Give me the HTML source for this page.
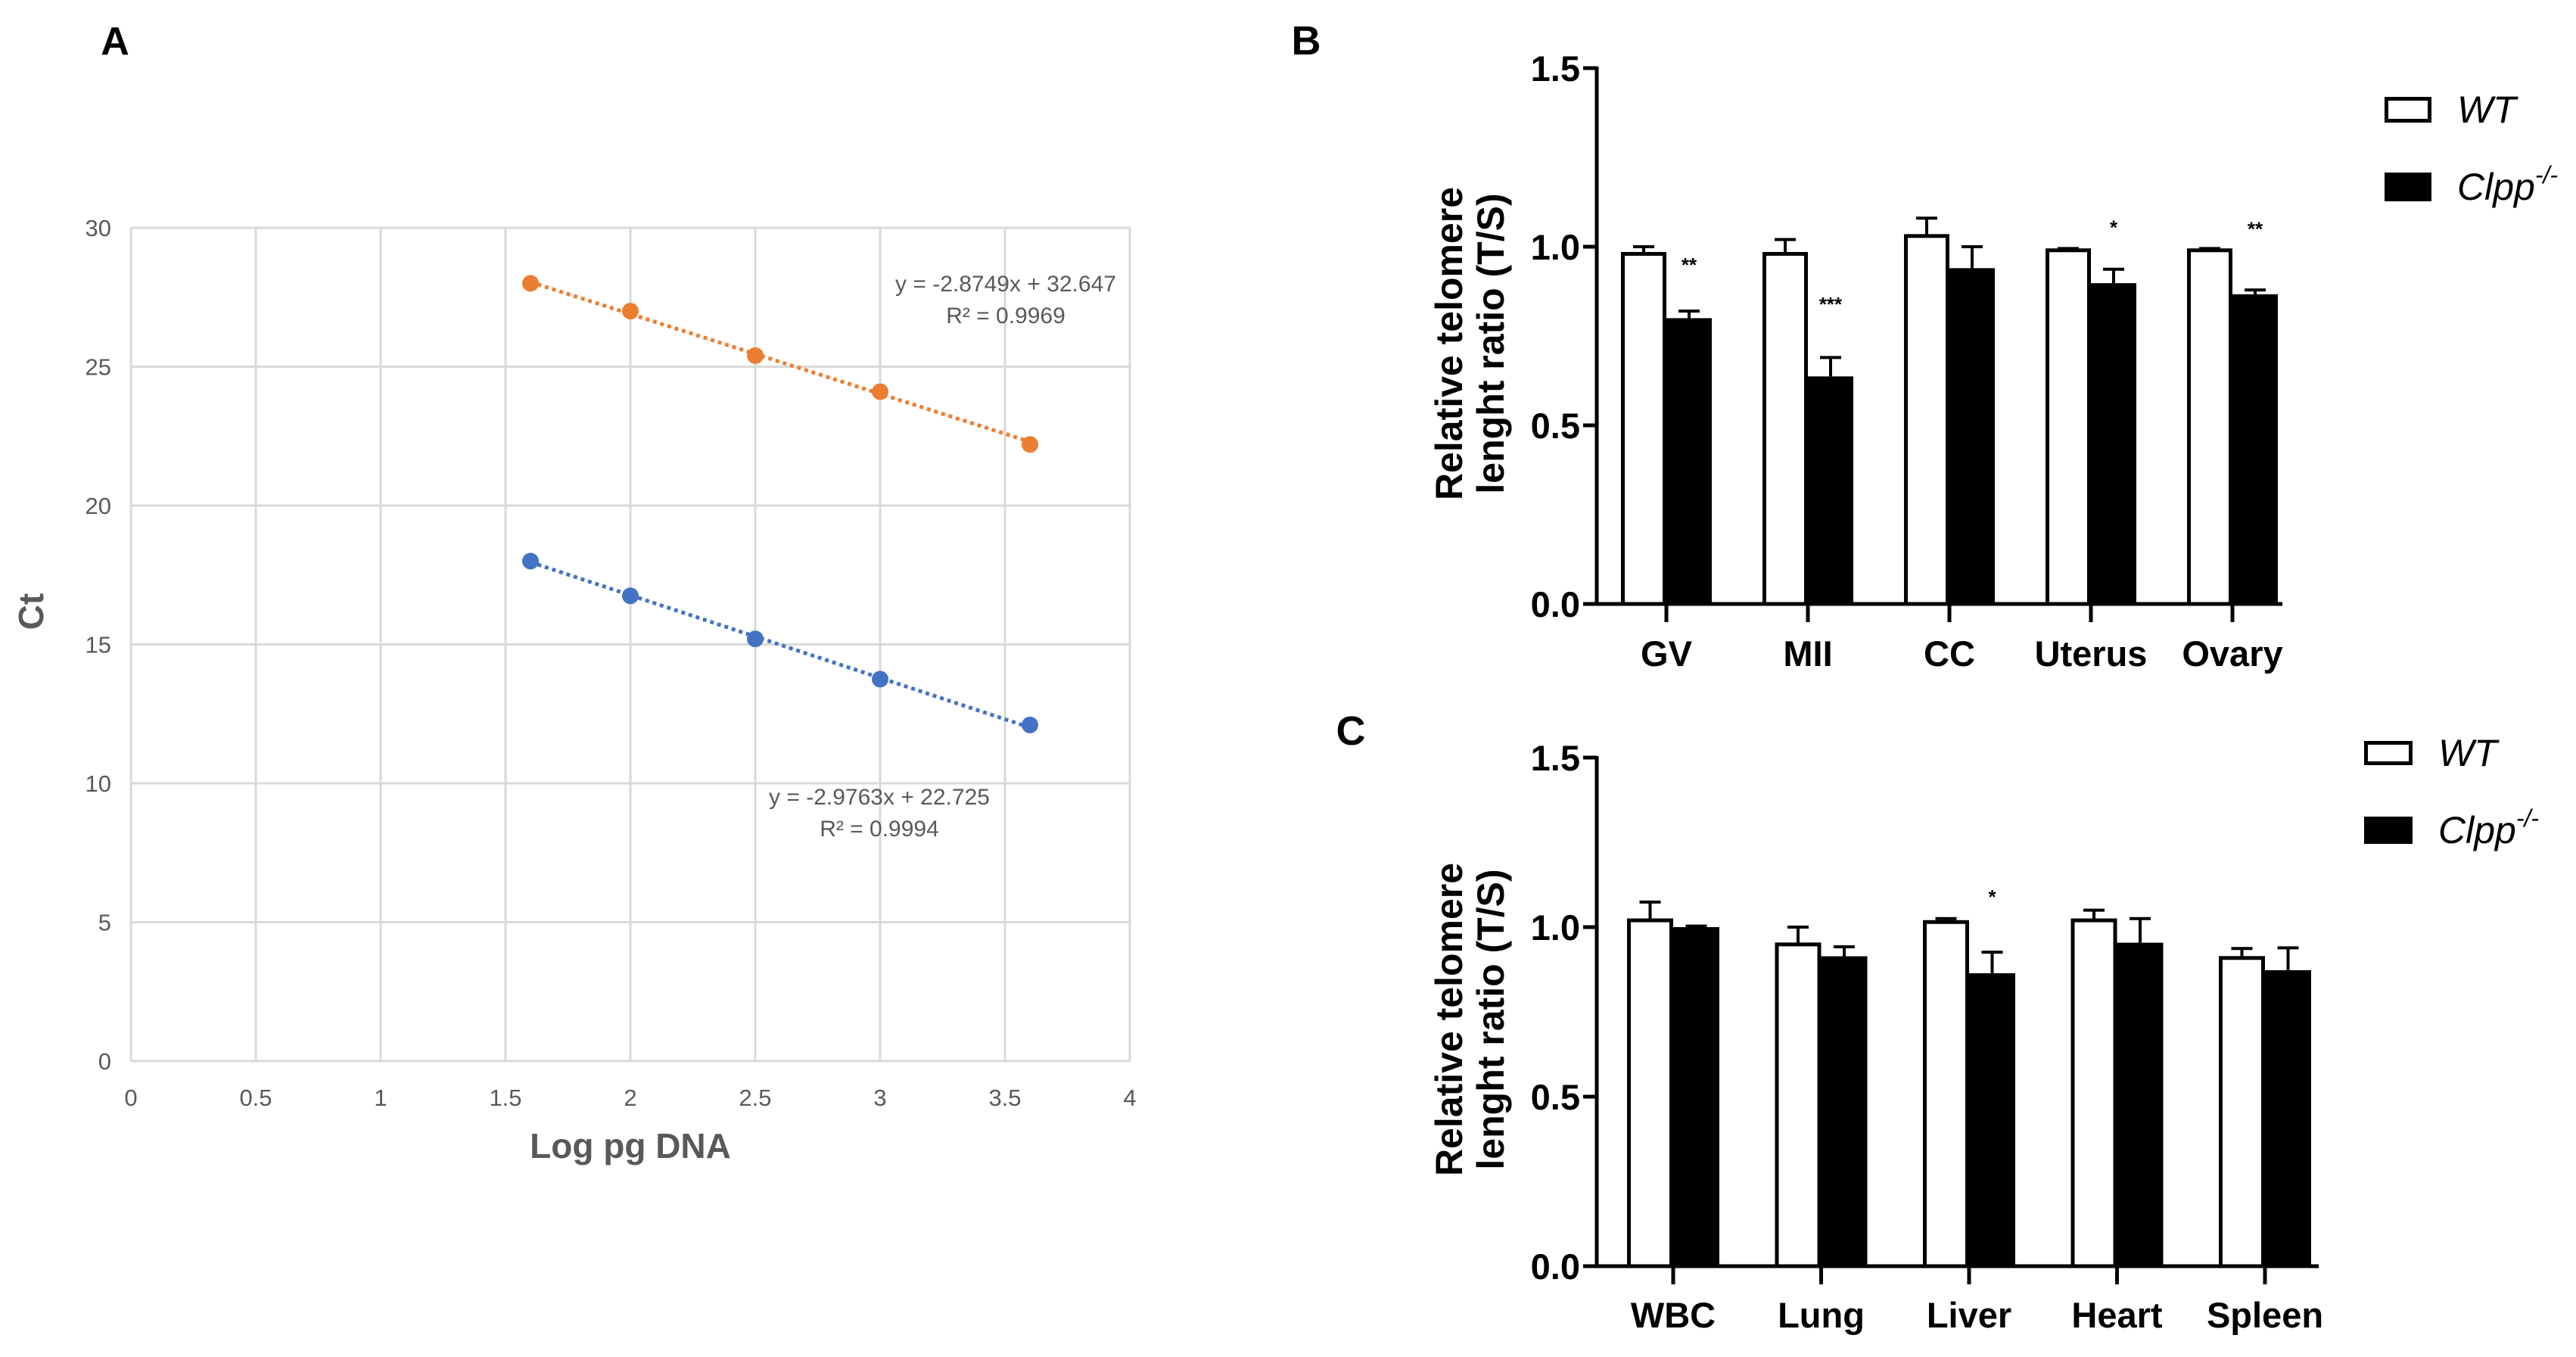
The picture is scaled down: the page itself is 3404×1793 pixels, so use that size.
<!DOCTYPE html>
<html><head><meta charset="utf-8"><style>
html,body{margin:0;padding:0;background:#fff;}
svg{display:block;}
.ga{font-family:"Liberation Sans",sans-serif;fill:#595959;font-size:31px;}
.gb{font-family:"Liberation Sans",sans-serif;font-weight:bold;fill:#000;}
</style></head><body>
<svg id="fig" width="3404" height="1793" viewBox="0 0 3404 1793" xmlns="http://www.w3.org/2000/svg">
<g id="pa"></g>
<g id="pb"></g>
<g id="pc"></g>
</svg>
<script>
// Panel A data
const aXTicks = [0,0.5,1,1.5,2,2.5,3,3.5,4];
const aYTicks = [0,5,10,15,20,25,30];
const aX = [1.6,2,2.5,3,3.6];
const aOrange = [28,27,25.4,24.1,22.2];
const aBlue = [18,16.75,15.2,13.75,12.1];
const aOrangeFit = [-2.8749,32.647];
const aBlueFit = [-2.9763,22.725];
// Panel B data
const bCats = ["GV","MII","CC","Uterus","Ovary"];
const bWT = [0.98,0.98,1.03,0.99,0.99];
const bWTErr = [0.02,0.04,0.05,0.005,0.005];
const bKO = [0.80,0.637,0.94,0.898,0.867];
const bKOErr = [0.02,0.053,0.06,0.039,0.012];
const bStars = ["**","***","","*","**"];
const bStarY = [0.96,0.85,0,1.065,1.06];
// Panel C data
const cCats = ["WBC","Lung","Liver","Heart","Spleen"];
const cWT = [1.02,0.949,1.015,1.02,0.909];
const cWTErr = [0.054,0.051,0.01,0.03,0.028];
const cKO = [1.0,0.914,0.864,0.954,0.873];
const cKOErr = [0.003,0.028,0.062,0.071,0.066];
const cStars = ["","","*","",""];
const cStarY = [0,0,1.10,0,0];
const barTicks = [0,0.5,1.0,1.5];

const NS="http://www.w3.org/2000/svg";
function mk(p,tag,at,txt){const e=document.createElementNS(NS,tag);for(const k in at)e.setAttribute(k,at[k]);if(txt!==undefined)e.textContent=txt;p.appendChild(e);return e;}

// ---- Panel A
const pa=document.getElementById('pa');
const ax=v=>173+(v/4)*(1493-173);
const ay=v=>1402-(v/30)*(1402-301);
let t=mk(pa,'text',{x:152,y:72,'font-size':52,class:'gb','text-anchor':'middle'},'A');


aXTicks.forEach(v=>{
  let l=mk(pa,'line',{x1:ax(v),x2:ax(v),y1:ay(0),y2:ay(30),stroke:'#d9d9d9','stroke-width':3});
  
  
  let tx=mk(pa,'text',{x:ax(v),y:1461,class:'ga','text-anchor':'middle'},String(v));
  
  
});
aYTicks.forEach(v=>{
  let l=mk(pa,'line',{x1:ax(0),x2:ax(4),y1:ay(v),y2:ay(v),stroke:'#d9d9d9','stroke-width':3});
  
  
  let tx=mk(pa,'text',{x:147,y:ay(v)+11,class:'ga','text-anchor':'end'},String(v));
  
  
});
t=mk(pa,'text',{x:833,y:1530,style:'font-size:46px',class:'ga','font-weight':'bold','text-anchor':'middle'},'Log pg DNA');


t=mk(pa,'text',{x:0,y:0,style:'font-size:46px',class:'ga','font-weight':'bold','text-anchor':'middle',transform:'translate(57,808) rotate(-90)'},'Ct');


function series(vals,fit,col,name){
  const x1=aX[0],x2=aX[aX.length-1];
  let l=mk(pa,'line',{x1:ax(x1),y1:ay(fit[0]*x1+fit[1]),x2:ax(x2),y2:ay(fit[0]*x2+fit[1]),stroke:col,'stroke-width':5,'stroke-dasharray':'5 5'});
  
  
  vals.forEach((v,i)=>{
    let c=mk(pa,'circle',{cx:ax(aX[i]),cy:ay(v),r:11,fill:col});
    
    
  });
}
series(aOrange,aOrangeFit,'#ed7d31','orange-series');
series(aBlue,aBlueFit,'#4472c4','blue-series');
function eq(x,y,fit,r2,name){
  let a=mk(pa,'text',{x:x,y:y,class:'ga',style:'font-size:30px','text-anchor':'middle'},'y = '+fit[0]+'x + '+fit[1]);
  
  
  let b=mk(pa,'text',{x:x,y:y+42,class:'ga',style:'font-size:30px','text-anchor':'middle'},'R² = '+r2);
  
  
}
eq(1329,385,aOrangeFit,'0.9969','orange-series');
eq(1162,1063,aBlueFit,'0.9994','blue-series');

// ---- Bar panels
function barPanel(g,o){
  const by=v=>o.y0-(v/1.5)*(o.y0-o.y15);
  let t=mk(g,'text',{x:o.lx,y:o.ly,'font-size':54,class:'gb','text-anchor':'middle'},o.label);
  
  
  let ya=mk(g,'line',{x1:o.ax,x2:o.ax,y1:o.y15-2,y2:o.y0,stroke:'#000','stroke-width':5});
  
  
  barTicks.forEach(v=>{
    let l=mk(g,'line',{x1:o.ax-18,x2:o.ax,y1:by(v),y2:by(v),stroke:'#000','stroke-width':5});
    
    
    let tx=mk(g,'text',{x:o.ax-22,y:by(v)+17,'font-size':47,class:'gb','text-anchor':'end'},v.toFixed(1));
    
    
  });
  o.cats.forEach((c,i)=>{
    const cx=o.c0+i*o.step, w=o.bw;
    let tk=mk(g,'line',{x1:cx,x2:cx,y1:o.y0,y2:o.y0+24,stroke:'#000','stroke-width':5});
    
    
    let lb=mk(g,'text',{x:cx,y:o.xly,'font-size':47,class:'gb','text-anchor':'middle'},c);
    
    
    let ew=mk(g,'line',{x1:cx-w/2,x2:cx-w/2,y1:by(o.wt[i]+o.wte[i]),y2:by(o.wt[i]),stroke:'#000','stroke-width':4});
    
    
    let ewc=mk(g,'line',{x1:cx-w/2-14,x2:cx-w/2+14,y1:by(o.wt[i]+o.wte[i]),y2:by(o.wt[i]+o.wte[i]),stroke:'#000','stroke-width':4});
    
    
    let r=mk(g,'rect',{x:cx-w+2.5,y:by(o.wt[i]),width:w-5,height:o.y0-by(o.wt[i]),fill:'#fff',stroke:'#000','stroke-width':5});
    
    
    let ek=mk(g,'line',{x1:cx+w/2,x2:cx+w/2,y1:by(o.ko[i]+o.koe[i]),y2:by(o.ko[i]),stroke:'#000','stroke-width':4});
    
    
    let ekc=mk(g,'line',{x1:cx+w/2-14,x2:cx+w/2+14,y1:by(o.ko[i]+o.koe[i]),y2:by(o.ko[i]+o.koe[i]),stroke:'#000','stroke-width':4});
    
    
    let rk=mk(g,'rect',{x:cx,y:by(o.ko[i]),width:w,height:o.y0-by(o.ko[i]),fill:'#000'});
    
    
    if(o.stars[i]){
      let s=mk(g,'text',{x:cx+w/2,y:by(o.starY[i])+14,'font-size':26,class:'gb','text-anchor':'middle'},o.stars[i]);
      
      
    }
  });
  let xa=mk(g,'line',{x1:o.ax,x2:o.xend,y1:o.y0,y2:o.y0,stroke:'#000','stroke-width':5});
  
  
  const tcy=(o.y0+o.y15)/2+10;
  let y1=mk(g,'text',{x:0,y:0,'font-size':50,class:'gb','text-anchor':'middle',transform:'translate('+(o.ax-178)+','+tcy+') rotate(-90)'},'Relative telomere');
  
  
  let y2=mk(g,'text',{x:0,y:0,'font-size':50,class:'gb','text-anchor':'middle',transform:'translate('+(o.ax-123)+','+tcy+') rotate(-90)'},'lenght ratio (T/S)');
  
  
  let lw=mk(g,'rect',{x:o.legx+2.5,y:o.legy+2.5,width:o.legw-5,height:o.legh-5,fill:'#fff',stroke:'#000','stroke-width':5});
  
  
  let lwt=mk(g,'text',{x:o.legx+o.legw+34,y:o.legy+o.legh/2+17,'font-size':50,'font-family':'Liberation Sans, sans-serif','font-style':'italic',fill:'#000'},'WT');
  
  
  let lk=mk(g,'rect',{x:o.legx,y:o.legy+o.legdy,width:o.legw,height:o.legh+4,fill:'#000'});
  
  
  let lkt=mk(g,'text',{x:o.legx+o.legw+34,y:o.legy+o.legdy+o.legh/2+19,'font-size':50,'font-family':'Liberation Sans, sans-serif','font-style':'italic',fill:'#000'},'Clpp');
  
  
  mk(lkt,'tspan',{dy:-22,'font-size':32},'-/-');
}
barPanel(document.getElementById('pb'),{label:'B',lx:1726,ly:72,ax:2110,y0:798,y15:90,c0:2202,step:187,bw:60,xend:3016,xly:880,
  cats:bCats,wt:bWT,wte:bWTErr,ko:bKO,koe:bKOErr,stars:bStars,starY:bStarY,legx:3151,legy:128,legw:62,legh:34,legdy:100});
barPanel(document.getElementById('pc'),{label:'C',lx:1785,ly:984,ax:2110,y0:1673,y15:1001,c0:2211,step:195.5,bw:61,xend:3064,xly:1754,
  cats:cCats,wt:cWT,wte:cWTErr,ko:cKO,koe:cKOErr,stars:cStars,starY:cStarY,legx:3124,legy:979,legw:64,legh:32,legdy:100});
</script>
</body></html>
